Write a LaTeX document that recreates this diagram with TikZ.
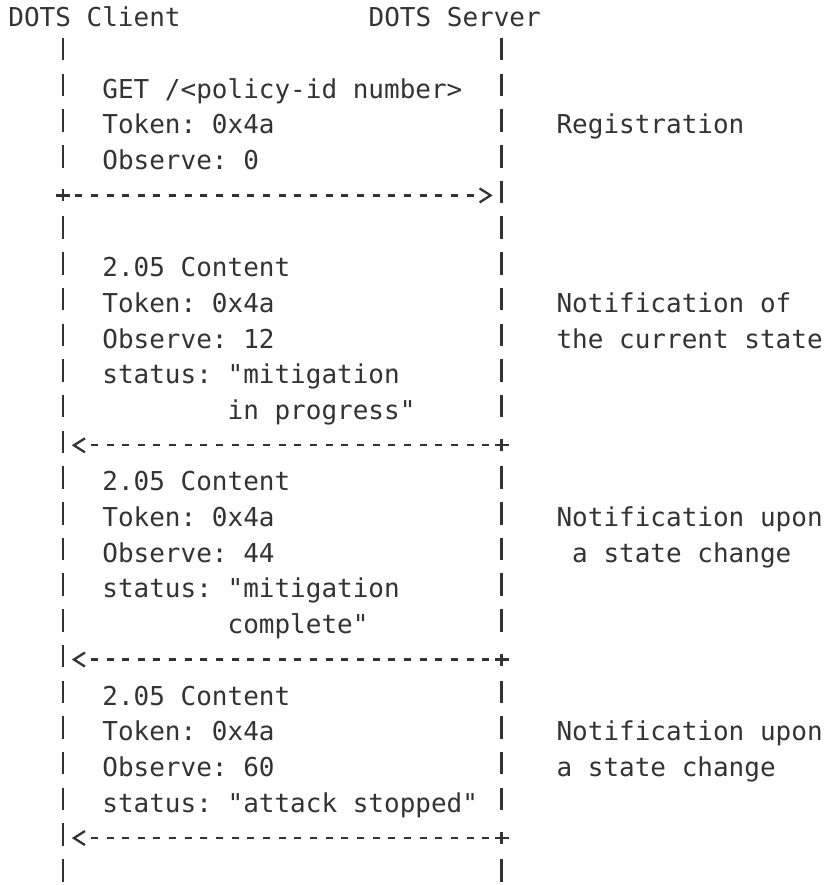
\documentclass[tikz,border=0pt]{standalone}
\usepackage{fontspec}
\setmonofont{DejaVu Sans Mono}
\usetikzlibrary{arrows.meta,decorations.markings}
\definecolor{ink}{HTML}{333333}
\tikzset{
  txt/.style={anchor=base west, inner sep=0pt, text=ink},
  life/.style={draw=ink, line width=2.3pt, dash pattern=on 22.5pt off 13.2pt,
    shorten <=21pt, shorten >=27.9pt},
  msg/.style={draw=ink, line width=2.3pt, dash pattern=on 7pt off 8.66pt,
    shorten <=12.16pt, shorten >=24pt,
    postaction={decorate, decoration={markings,
      mark=at position -8.8pt with {\arrow{Straight Barb[length=11pt,width=14pt]}}}}},
  plus/.style={draw=ink, line width=2.3pt}
}

\begin{document}
\begin{tikzpicture}[x=15.66pt, y=-35.7pt, font=\ttfamily\fontsize{26}{35.7}\selectfont]
  \useasboundingbox (-0.524,-0.748) rectangle (52.16,24.04);
  % heads
  \node[txt] (client) at (0,0) {DOTS Client};
  \node[txt] (server) at (23,0) {DOTS Server};
  % lifeline points, at the height of the arrows
  \coordinate (ctop) at (3.5,-0.275);
  \coordinate (cbot) at (3.5,24.725);
  \coordinate (stop) at (31.5,-0.275);
  \coordinate (sbot) at (31.5,24.725);
  \foreach \r in {5,12,18,23} {
    \coordinate (c\r) at (3.5,\r-0.275);
    \coordinate (s\r) at (31.5,\r-0.275);
  }
  % lifelines
  \draw[life] (ctop) -- (c5);
  \draw[life] (c5) -- (cbot);
  \draw[life] (stop) -- (s12);
  \draw[life] (s12) -- (s18);
  \draw[life] (s18) -- (s23);
  \draw[life] (s23) -- (sbot);
  % messages
  \draw[msg] (c5) -- (s5);
  \draw[msg] (s12) -- (c12);
  \draw[msg] (s18) -- (c18);
  \draw[msg] (s23) -- (c23);
  \foreach \j in {c5,s12,s18,s23}
    \draw[plus] ([xshift=-7pt]\j) -- ([xshift=7pt]\j) ([yshift=-6pt]\j) -- ([yshift=6pt]\j);
  % message texts
  \foreach \t [count=\i from 2] in {GET /<policy-id number>, Token: 0x4a, Observe: 0}
    \node[txt] (get\i) at (6,\i) {\t};
  \foreach \t [count=\i from 7] in {2.05 Content, Token: 0x4a, Observe: 12,
      status: "mitigation, \phantom{status: }in progress"}
    \node[txt] (cur\i) at (6,\i) {\t};
  \foreach \t [count=\i from 13] in {2.05 Content, Token: 0x4a, Observe: 44,
      status: "mitigation, \phantom{status: }complete"}
    \node[txt] (chg\i) at (6,\i) {\t};
  \foreach \t [count=\i from 19] in {2.05 Content, Token: 0x4a, Observe: 60,
      status: "attack stopped"}
    \node[txt] (stp\i) at (6,\i) {\t};
  % notes on the right
  \node[txt] (reg) at (35,3) {Registration};
  \node[txt] (note8) at (35,8) {Notification of};
  \node[txt] (note9) at (35,9) {the current state};
  \node[txt] (note14) at (35,14) {Notification upon};
  \node[txt] (note15) at (36,15) {a state change};
  \node[txt] (note20) at (35,20) {Notification upon};
  \node[txt] (note21) at (35,21) {a state change};
\end{tikzpicture}
\end{document}
